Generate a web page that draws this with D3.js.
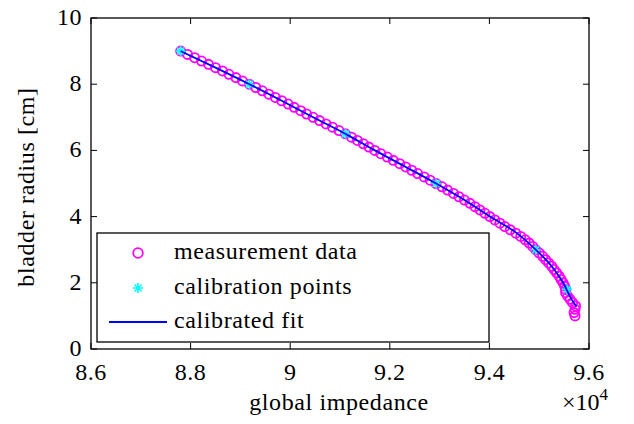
<!DOCTYPE html>
<html>
<head>
<meta charset="utf-8">
<script src="https://cdn.jsdelivr.net/npm/d3@7"></script>
<style>
  html, body { margin: 0; padding: 0; background: #fff; }
  svg { display: block; }
</style>
</head>
<body>
<svg id="chart" width="634" height="424"></svg>
<script>
// Measured bladder radius (cm) against global impedance (x 10^4)
const measRadius = [
  9.0, 8.9, 8.8, 8.7, 8.6, 8.5, 8.4, 8.3, 8.2, 8.1,
  8.0, 7.9, 7.8, 7.7, 7.6, 7.5, 7.4, 7.3, 7.2, 7.1,
  7.0, 6.9, 6.8, 6.7, 6.6, 6.5, 6.4, 6.3, 6.2, 6.1,
  6.0, 5.9, 5.8, 5.7, 5.6, 5.5, 5.4, 5.3, 5.2, 5.1,
  5.0, 4.9, 4.8, 4.7, 4.6, 4.5, 4.4, 4.3, 4.2, 4.1,
  4.0, 3.9, 3.8, 3.7, 3.6, 3.5, 3.4, 3.3, 3.2, 3.1,
  3.0, 2.9, 2.8, 2.7, 2.6, 2.5, 2.4, 2.3, 2.2, 2.1,
  2.0, 1.9, 1.8, 1.7, 1.6, 1.5, 1.4, 1.3, 1.2, 1.1, 1.0
];
const measImpedance = [
  8.780, 8.794, 8.808, 8.822, 8.836, 8.850, 8.864, 8.877, 8.891, 8.904,
  8.918, 8.931, 8.944, 8.957, 8.970, 8.983, 8.996, 9.008, 9.021, 9.033,
  9.046, 9.059, 9.072, 9.085, 9.098, 9.111, 9.123, 9.135, 9.147, 9.158,
  9.170, 9.182, 9.195, 9.207, 9.220, 9.232, 9.244, 9.256, 9.269, 9.281,
  9.293, 9.305, 9.316, 9.328, 9.339, 9.350, 9.361, 9.371, 9.381, 9.391,
  9.401, 9.411, 9.421, 9.431, 9.442, 9.453, 9.463, 9.472, 9.480, 9.487,
  9.493, 9.500, 9.507, 9.513, 9.519, 9.525, 9.530, 9.535, 9.540, 9.544,
  9.548, 9.551, 9.553, 9.553, 9.557, 9.562, 9.567, 9.573, 9.572, 9.570, 9.572
];

// Calibration points
const calImpedance = [8.780, 8.918, 9.111, 9.293, 9.493, 9.556];
const calRadius    = [9.0,   8.0,   6.5,   5.0,   3.0,   1.8];

// Calibrated fit curve
const fitImpedance = [8.780, 8.850, 8.918, 8.983, 9.046, 9.111, 9.170, 9.232, 9.293,
                      9.350, 9.401, 9.455, 9.493, 9.525, 9.548, 9.565, 9.575];
const fitRadius    = [9.0, 8.5, 8.0, 7.5, 7.0, 6.5, 6.0, 5.5, 5.0,
                      4.5, 4.0, 3.5, 3.0, 2.5, 2.0, 1.5, 1.28];

const xTicks = [8.6, 8.8, 9.0, 9.2, 9.4, 9.6];
const xTickLabels = ["8.6", "8.8", "9", "9.2", "9.4", "9.6"];
const yTicks = [0, 2, 4, 6, 8, 10];
const yTickLabels = ["0", "2", "4", "6", "8", "10"];

const legendLabels = ["measurement data", "calibration points", "calibrated fit"];

// Pick the first installed serif face
function fontAvailable(name) {
  const ctx = document.createElement("canvas").getContext("2d");
  const probe = "mmmmmmmmmmlliWWQqg0123";
  for (const base of ["monospace", "sans-serif"]) {
    ctx.font = `72px ${base}`;
    const w0 = ctx.measureText(probe).width;
    ctx.font = `72px "${name}", ${base}`;
    if (Math.abs(ctx.measureText(probe).width - w0) > 0.5) return true;
  }
  return false;
}
const serifCandidates = ["Liberation Serif", "DejaVu Serif", "Noto Serif", "Tinos",
  "Times New Roman", "Times", "FreeSerif", "Nimbus Roman", "TeX Gyre Termes",
  "Latin Modern Roman", "CMU Serif", "Georgia"];
const serifFace = serifCandidates.find(fontAvailable);
const fontFamily = serifFace ? `"${serifFace}", serif` : "serif";

const svg = d3.select("#chart").attr("font-family", fontFamily);
const plotL = 91, plotR = 589, plotT = 18, plotB = 349;

const x = d3.scaleLinear().domain([8.6, 9.6]).range([plotL, plotR]);
const y = d3.scaleLinear().domain([0, 10]).range([plotB, plotT]);

const MAGENTA = "#ff00ff", CYAN = "#00ffff", BLUE = "#0000ff";
const FONT = 24;

// Inner ticks on all four sides
const tickLen = 6;
const axes = svg.append("g").attr("stroke", "#000").attr("stroke-width", 1);
xTicks.forEach(t => {
  axes.append("line").attr("x1", x(t)).attr("x2", x(t)).attr("y1", plotB).attr("y2", plotB - tickLen);
  axes.append("line").attr("x1", x(t)).attr("x2", x(t)).attr("y1", plotT).attr("y2", plotT + tickLen);
});
yTicks.forEach(t => {
  axes.append("line").attr("y1", y(t)).attr("y2", y(t)).attr("x1", plotL).attr("x2", plotL + tickLen);
  axes.append("line").attr("y1", y(t)).attr("y2", y(t)).attr("x1", plotR).attr("x2", plotR - tickLen);
});

// Tick labels
svg.append("g").selectAll("text").data(xTicks).join("text")
  .attr("x", d => x(d)).attr("y", plotB + 31)
  .attr("text-anchor", "middle").attr("font-size", FONT)
  .attr("letter-spacing", 0.5)
  .text((d, i) => xTickLabels[i]);
svg.append("g").selectAll("text").data(yTicks).join("text")
  .attr("x", plotL - 9).attr("y", d => y(d) + 7)
  .attr("text-anchor", "end").attr("font-size", FONT)
  .attr("letter-spacing", 0.5)
  .text((d, i) => yTickLabels[i]);

// Axis titles
svg.append("text").attr("x", 339).attr("y", 410)
  .attr("text-anchor", "middle").attr("font-size", FONT)
  .attr("letter-spacing", 0.6)
  .text("global impedance");
const mult = svg.append("text").attr("x", 562).attr("y", 410).attr("font-size", FONT);
mult.append("tspan").text("\u00d710");
mult.append("tspan").attr("font-size", 17).attr("dy", -10).text("4");

svg.append("text")
  .attr("transform", "translate(34,187) rotate(-90)")
  .attr("text-anchor", "middle").attr("font-size", FONT)
  .attr("letter-spacing", 0.6)
  .text("bladder radius [cm]");

// Measurement circles
const meas = measImpedance.map((v, i) => ({ x: v, y: measRadius[i] }));
svg.append("g").selectAll("circle").data(meas).join("circle")
  .attr("cx", d => x(d.x)).attr("cy", d => y(d.y)).attr("r", 4.6)
  .attr("fill", "none").attr("stroke", MAGENTA).attr("stroke-width", 1.8);

// Asterisk marker path
function asterisk(s) {
  const d = s * 0.7071;
  return `M${-s},0L${s},0M0,${-s}L0,${s}M${-d},${-d}L${d},${d}M${-d},${d}L${d},${-d}`;
}
const cal = calImpedance.map((v, i) => ({ x: v, y: calRadius[i] }));
svg.append("g").selectAll("path").data(cal).join("path")
  .attr("transform", d => `translate(${x(d.x)},${y(d.y)})`)
  .attr("d", asterisk(5))
  .attr("fill", "none").attr("stroke", CYAN).attr("stroke-width", 1.6);

// Fit line
const fit = fitImpedance.map((v, i) => ({ x: v, y: fitRadius[i] }));
svg.append("path").datum(fit)
  .attr("d", d3.line().x(d => x(d.x)).y(d => y(d.y)).curve(d3.curveMonotoneX))
  .attr("fill", "none").attr("stroke", BLUE).attr("stroke-width", 1.8);

// Frame
svg.append("rect").attr("x", plotL).attr("y", plotT)
  .attr("width", plotR - plotL).attr("height", plotB - plotT)
  .attr("fill", "none").attr("stroke", "#000").attr("stroke-width", 1.3);

// Legend
const lg = svg.append("g");
lg.append("rect").attr("x", 97).attr("y", 233).attr("width", 392).attr("height", 109)
  .attr("fill", "#fff").attr("stroke", "#000").attr("stroke-width", 1.3);
const rows = [253, 288, 322];
lg.append("circle").attr("cx", 138).attr("cy", rows[0]).attr("r", 4.8)
  .attr("fill", "none").attr("stroke", MAGENTA).attr("stroke-width", 1.8);
lg.append("path").attr("transform", `translate(138,${rows[1]})`).attr("d", asterisk(5))
  .attr("fill", "none").attr("stroke", CYAN).attr("stroke-width", 1.6);
lg.append("line").attr("x1", 109).attr("x2", 167).attr("y1", rows[2]).attr("y2", rows[2])
  .attr("stroke", BLUE).attr("stroke-width", 1.8);
lg.selectAll("text.lab").data(legendLabels).join("text").attr("class", "lab")
  .attr("x", 174).attr("y", (d, i) => rows[i] + 6)
  .attr("font-size", FONT).attr("letter-spacing", 0.6)
  .text(d => d);
</script>
</body>
</html>
